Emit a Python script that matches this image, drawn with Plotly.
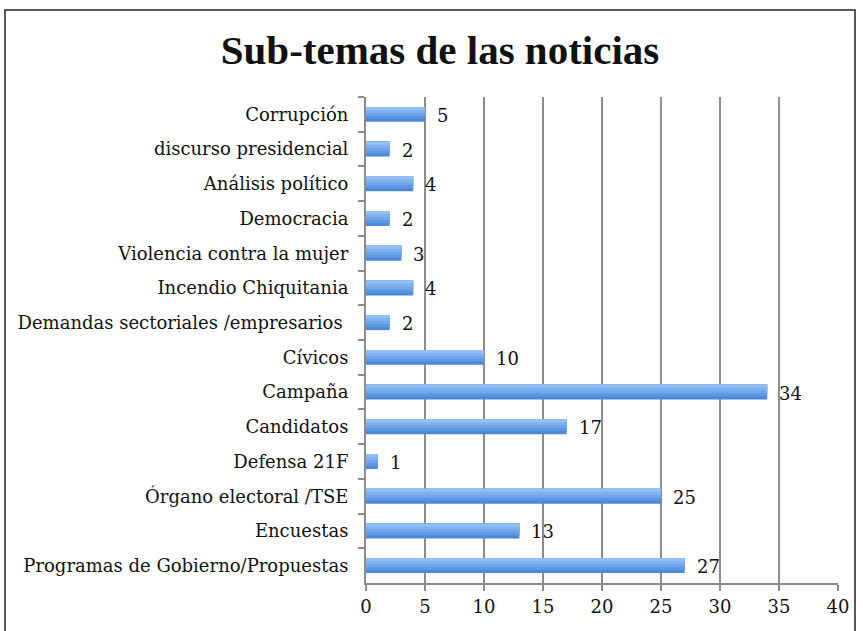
import plotly.graph_objects as go

# Sub-topics, listed top to bottom as drawn
categories = [
    "Corrupción",
    "discurso presidencial",
    "Análisis político",
    "Democracia",
    "Violencia contra la mujer",
    "Incendio Chiquitania",
    "Demandas sectoriales /empresarios ",
    "Cívicos",
    "Campaña",
    "Candidatos",
    "Defensa 21F",
    "Órgano electoral /TSE",
    "Encuestas",
    "Programas de Gobierno/Propuestas",
]
counts = [5, 2, 4, 2, 3, 4, 2, 10, 34, 17, 1, 25, 13, 27]
x_ticks = [0, 5, 10, 15, 20, 25, 30, 35, 40]

FONT = "DejaVu Serif, Liberation Serif, serif"
TITLE_FONT = "Liberation Serif, DejaVu Serif, serif"
BAR_W = 0.43

# shading bands from the bottom tone up to the light top edge:
# (fraction of bar thickness covered from the top, colour)
bands = [
    (1.00, "#4c87d8"),
    (0.80, "#5d96e3"),
    (0.60, "#6fa5eb"),
    (0.40, "#81b2f0"),
    (0.20, "#94c0f4"),
]

fig = go.Figure()
for frac, col in bands:
    fig.add_trace(go.Bar(
        x=counts,
        y=categories,
        orientation="h",
        width=BAR_W * frac,
        offset=-BAR_W / 2,
        marker=dict(color=col, line=dict(width=0)),
        showlegend=False,
        hoverinfo="x+y" if frac == 1.0 else "skip",
    ))

# value labels to the right of each bar
annotations = [
    dict(
        x=v, y=c, xref="x", yref="y",
        text=str(v), showarrow=False,
        xanchor="left", yanchor="middle", xshift=10, yshift=-1,
        font=dict(family=FONT, size=18, color="#111111"),
    )
    for c, v in zip(categories, counts)
]

fig.update_layout(
    width=863,
    height=631,
    margin=dict(l=366, r=25, t=97, b=48),
    paper_bgcolor="white",
    plot_bgcolor="white",
    barmode="overlay",
    bargap=0.57,
    title=dict(
        text="<b>Sub-temas de las noticias</b>",
        x=(440 / 863),
        xanchor="center",
        y=1 - 50 / 631,
        yanchor="middle",
        font=dict(family=TITLE_FONT, size=41, color="#111111"),
    ),
    font=dict(family=FONT, size=18, color="#111111"),
    annotations=annotations,
    xaxis=dict(
        range=[0, 40],
        tickvals=x_ticks,
        ticktext=[str(t) for t in x_ticks],
        showgrid=True,
        gridcolor="#8c8c8c",
        gridwidth=2,
        zeroline=False,
        showline=True,
        linecolor="#8c8c8c",
        linewidth=2,
        ticks="outside",
        ticklen=6,
        tickwidth=2,
        tickcolor="#8c8c8c",
        tickfont=dict(family=FONT, size=18),
        fixedrange=True,
    ),
    yaxis=dict(
        autorange="reversed",
        showline=True,
        linecolor="#8c8c8c",
        linewidth=2,
        ticks="outside",
        tickson="boundaries",
        ticklen=6,
        tickwidth=2,
        tickcolor="#8c8c8c",
        ticklabelstandoff=12,
        tickfont=dict(family=FONT, size=18),
        showgrid=False,
        fixedrange=True,
    ),
    shapes=[
        # outer chart frame
        dict(
            type="rect", xref="paper", yref="paper",
            x0=(5 - 366) / 472, x1=(855 - 366) / 472,
            y0=-0.3, y1=(583 - 10) / 486,
            line=dict(color="#222222", width=1.5),
            fillcolor="rgba(0,0,0,0)",
            layer="below",
        )
    ],
)

fig.write_html("out.html")
